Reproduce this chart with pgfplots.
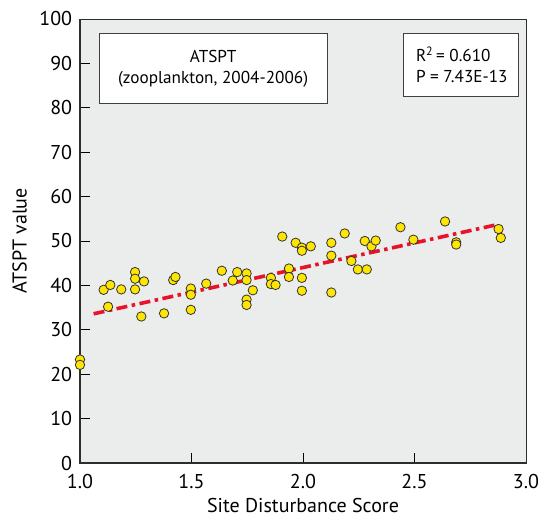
\documentclass[border=0pt]{standalone}
\usepackage{pgfplots}
\pgfplotsset{compat=1.18}
\usepackage{fontspec}
\setmainfont{PT Sans}
\definecolor{bg}{RGB}{235,237,237}
\definecolor{ptfill}{RGB}{255,230,0}
\definecolor{ptedge}{RGB}{50,50,50}
\definecolor{trend}{RGB}{232,18,42}
\definecolor{spine}{RGB}{45,45,45}
\newcommand\tfont{\fontsize{20bp}{23bp}\selectfont}
\newcommand\lfont{\fontsize{20bp}{23bp}\selectfont}
\newcommand\bfont{\fontsize{17.2bp}{21bp}\selectfont}
\begin{document}
\begin{tikzpicture}
\begin{axis}[
  scale only axis,
  width=446bp, height=444bp,
  xmin=1, xmax=3, ymin=0, ymax=100,
  clip=false,
  axis background/.style={fill=bg},
  axis line style={draw=spine, line width=0.9bp},
  xtick={1,1.5,2,2.5,3},
  xticklabels={1.0,1.5,2.0,2.5,3.0},
  ytick={0,10,...,100},
  tick align=inside,
  xtick pos=lower, ytick pos=left,
  major tick length=10bp,
  tick style={draw=black, line width=0.9bp},
  /pgf/number format/assume math mode=true,
  ticklabel style={font=\tfont, inner sep=1bp},
  yticklabel style={xshift=-6.7bp},
  xticklabel style={yshift=-9.7bp},
  label style={font=\lfont},
  xlabel={Site Disturbance Score},
  ylabel={ATSPT value},
  xlabel style={yshift=-8bp, inner sep=1bp},
  ylabel style={yshift=8bp},
]
\draw[draw=spine, line width=2.4bp] (rel axis cs:0,1) -- (rel axis cs:0,0) -- (rel axis cs:1,0);
\draw[draw=black!75, line width=0.9bp, fill=white] (rel axis cs:0.043,0.809) rectangle (rel axis cs:0.554,0.968);
\node[font=\bfont, align=center] at (rel axis cs:0.2985,0.8885) {ATSPT\\(zooplankton, 2004-2006)};
\draw[draw=black!75, line width=0.9bp, fill=white] (rel axis cs:0.726,0.826) rectangle (rel axis cs:0.982,0.968);
\node[font=\bfont, align=left] at (rel axis cs:0.856,0.897) {R\textsuperscript{2}\,= 0.610\\P = 7.43E-13};
\addplot[trend, line width=3.6bp, dash pattern=on 11bp off 4.5bp on 3.5bp off 4.5bp] coordinates {(1.061,33.6) (2.872,53.7)};
\addplot[only marks, mark=*, mark size=4.7bp, mark options={fill=ptfill, draw=ptedge, line width=0.8bp}] coordinates {
(1.000,23.3) (1.000,22.1) (1.106,39.0) (1.136,40.1) (1.126,35.2) (1.185,39.1)
(1.247,43.0) (1.247,41.5) (1.247,39.1) (1.287,40.9) (1.275,33.0) (1.377,33.7)
(1.418,41.2) (1.428,41.9) (1.497,39.3) (1.497,37.9) (1.497,34.5) (1.566,40.4)
(1.636,43.3) (1.685,41.1) (1.705,43.0) (1.747,42.7) (1.747,41.2) (1.775,38.9)
(1.747,36.8) (1.747,35.6) (1.907,51.0) (1.856,41.7) (1.856,40.3) (1.877,40.1)
(1.937,43.8) (1.937,41.9) (1.967,49.6) (1.995,48.5) (1.995,47.8) (2.035,48.8)
(1.995,41.7) (1.995,38.8) (2.127,49.6) (2.127,46.7) (2.127,38.4) (2.187,51.7)
(2.217,45.5) (2.246,43.6) (2.286,43.6) (2.277,50.0) (2.307,48.8) (2.326,50.1)
(2.437,53.1) (2.495,50.3) (2.637,54.4) (2.687,49.7) (2.687,49.2) (2.877,52.7)
(2.887,50.7)
};
\end{axis}
\pgfresetboundingbox
\path[use as bounding box] ([shift={(-80bp,-56bp)}]current axis.south west) rectangle ([shift={(12bp,19bp)}]current axis.north east);
\end{tikzpicture}
\end{document}
